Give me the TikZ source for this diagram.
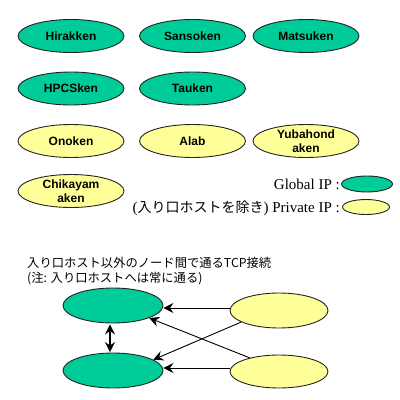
\documentclass[tikz,border=0pt]{standalone}
\usepackage{fontspec}
\setmainfont{Liberation Serif}
\newfontfamily\labfont{Liberation Sans}
\newfontfamily\cjk{Noto Sans CJK JP}
\usetikzlibrary{shapes.geometric,arrows.meta}
\definecolor{gfill}{RGB}{0,204,153}
\definecolor{yfill}{RGB}{255,255,153}
\definecolor{edgec}{RGB}{35,35,35}
\tikzset{
  blob/.style={ellipse, draw=edgec, line width=0.9pt, inner sep=0pt,
    minimum width=106pt, minimum height=33pt, align=center,
    font=\labfont\bfseries\fontsize{12}{14}\selectfont},
  gnode/.style={blob, fill=gfill},
  ynode/.style={blob, fill=yfill},
  small/.style={ellipse, draw=edgec, line width=0.9pt, inner sep=0pt},
  lgtext/.style={anchor=east, inner sep=0pt, font=\fontsize{15}{18}\selectfont},
  note/.style={anchor=west, inner sep=0pt, font=\cjk\fontsize{12.3}{16}\selectfont},
  big/.style={ellipse, draw=edgec, line width=0.9pt, inner sep=0pt,
    minimum width=100pt, minimum height=35pt},
  arr/.style={-{Stealth[length=10pt,width=10pt,inset=3.5pt]}, line width=0.9pt, draw=black},
  dbl/.style={{Stealth[length=10pt,width=10pt,inset=3.5pt]}-{Stealth[length=10pt,width=10pt,inset=3.5pt]}, line width=2pt, draw=black}
}
\begin{document}
\begin{tikzpicture}[x=1pt,y=-1pt]
\useasboundingbox[fill=white] (0,0) rectangle (400,400);
% grid of labs
\node[gnode] (hira) at (71,36) {Hirakken};
\node[gnode] (sanso) at (192.5,36) {Sansoken};
\node[gnode] (matsu) at (306,36) {Matsuken};
\node[gnode] (hpcs) at (71,88.5) {HPCSken};
\node[gnode] (tau) at (192.5,88.5) {Tauken};
\node[ynode] (ono) at (71,141) {Onoken};
\node[ynode] (alab) at (192.5,141) {Alab};
\node[ynode] (yuba) at (306,141) {Yubahond\\aken};
\node[ynode] (chika) at (71,191) {Chikayam\\aken};
% legend
\node[lgtext] (lg) at (340,184) {Global IP :};
\node[small, fill=gfill, minimum width=51pt, minimum height=16pt] (lgE) at (367,184) {};
\node[lgtext] (lp) at (340,208) {({\cjk\fontsize{14}{16}\selectfont 入り口ホストを除き}) Private IP :};
\node[small, fill=yfill, minimum width=47pt, minimum height=15pt] (lpE) at (366,207) {};
% note
\node[note] (n1) at (27,263) {入り口ホスト以外のノード間で通るTCP接続};
\node[note] (n2) at (27,279) {(注: 入り口ホストへは常に通る)};
% connection diagram
\node[big, fill=gfill] (tg) at (113,305.5) {};
\node[big, fill=gfill] (bg) at (113,370.5) {};
\node[big, fill=yfill, minimum width=98pt] (ty) at (279,310.5) {};
\node[big, fill=yfill, minimum width=98pt, minimum height=33pt] (by) at (279,371.5) {};
\draw[arr] ([yshift=2.5pt]ty.west) -- ([yshift=-2.5pt]tg.east);
\draw[arr] ([yshift=3.5pt]by.west) -- ([yshift=2.5pt]bg.east);
\draw[arr] (by.155) -- (tg.-19);
\draw[arr] (ty.197) -- (bg.15.5);
\draw[dbl] ([xshift=-3pt,yshift=-1pt]tg.south) -- ([xshift=-3pt,yshift=0.5pt]bg.north);
\end{tikzpicture}
\end{document}
